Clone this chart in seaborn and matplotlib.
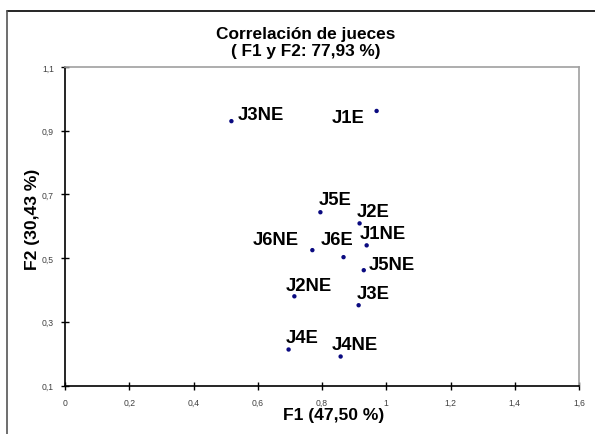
import matplotlib
matplotlib.use("Agg")
import matplotlib.pyplot as plt
from matplotlib.lines import Line2D
import seaborn as sns
import pandas as pd

judges = ["J3NE", "J1E", "J5E", "J2E", "J1NE", "J6NE", "J6E", "J5NE", "J2NE", "J3E", "J4E", "J4NE"]
f1 = [0.518, 0.970, 0.795, 0.917, 0.939, 0.770, 0.867, 0.930, 0.714, 0.914, 0.696, 0.858]
f2 = [0.930, 0.962, 0.644, 0.609, 0.540, 0.525, 0.503, 0.462, 0.380, 0.352, 0.213, 0.191]
x_ticks = [0, 0.2, 0.4, 0.6, 0.8, 1.0, 1.2, 1.4, 1.6]
x_tick_labels = ["0", "0,2", "0,4", "0,6", "0,8", "1", "1,2", "1,4", "1,6"]
y_ticks = [0.1, 0.3, 0.5, 0.7, 0.9, 1.1]
y_tick_labels = ["0,1", "0,3", "0,5", "0,7", "0,9", "1,1"]
title_lines = ["Correlación de jueces", "( F1 y F2: 77,93 %)"]
x_label = "F1 (47,50 %)"
y_label = "F2 (30,43 %)"

# label offsets in pixels (dx, dy, ha)
label_offsets = {
    "J3NE": (6, 7, "left"),
    "J1E": (-12, -7, "right"),
    "J5E": (-2, 13, "left"),
    "J2E": (-3, 12, "left"),
    "J1NE": (-7, 12, "left"),
    "J6NE": (-14, 11, "right"),
    "J6E": (-23, 18, "left"),
    "J5NE": (5, 6, "left"),
    "J2NE": (-9, 11, "left"),
    "J3E": (-2, 12, "left"),
    "J4E": (-3, 12, "left"),
    "J4NE": (-9, 12, "left"),
}

sns.set_style("white")
plt.rcParams["font.family"] = ["Liberation Sans", "DejaVu Sans"]

df = pd.DataFrame({"judge": judges, "F1": f1, "F2": f2})

W, H = 595, 435
fig = plt.figure(figsize=(W / 100, H / 100), dpi=100)
ax = fig.add_axes([65 / W, 1 - 386.5 / H, (579 - 65) / W, (386.5 - 68) / H])

sns.scatterplot(data=df, x="F1", y="F2", ax=ax, color="#0a0a80", s=10,
                edgecolor="none", legend=False)

for j, x, y in zip(judges, f1, f2):
    dx, dy, ha = label_offsets[j]
    ax.annotate(j, (x, y), xytext=(dx, dy), textcoords="offset pixels",
                ha=ha, va="center", fontsize=13.3, fontweight="bold", color="black")

ax.set_xlim(0, 1.6)
ax.set_ylim(0.1, 1.1)
ax.set_xticks(x_ticks)
ax.set_xticklabels(x_tick_labels)
ax.set_yticks(y_ticks)
ax.set_yticklabels(y_tick_labels)
ax.tick_params(axis="both", labelsize=6.2, labelcolor="#404040", colors="black",
               direction="inout", length=6, width=1, left=True, bottom=True)
ax.tick_params(axis="x", pad=6)
ax.tick_params(axis="y", pad=5)
ax.set_xlabel("")
ax.set_ylabel("")

for side in ["left", "bottom"]:
    ax.spines[side].set_color("black")
    ax.spines[side].set_linewidth(1.2)
for side in ["top", "right"]:
    ax.spines[side].set_color("#a0a0a0")
    ax.spines[side].set_linewidth(1.2)
    ax.spines[side].set_visible(True)

fig.text(305.5 / W, 1 - 34 / H, title_lines[0], ha="center", va="center",
         fontsize=12.4, fontweight="bold", color="black")
fig.text(306 / W, 1 - 52 / H, title_lines[1], ha="center", va="center",
         fontsize=12.4, fontweight="bold", color="black")
fig.text(334 / W, 1 - 416 / H, x_label, ha="center", va="center",
         fontsize=12.6, fontweight="bold", color="black")
fig.text(32 / W, 1 - 219 / H, y_label, ha="center", va="center",
         fontsize=12.6, fontweight="bold", rotation=90, color="black")

# outer frame lines (top and left)
fig.add_artist(Line2D([7 / W, 1.0], [1 - 12 / H, 1 - 12 / H], color="black", lw=1.2,
                      transform=fig.transFigure))
fig.add_artist(Line2D([7 / W, 7 / W], [0, 1 - 12 / H], color="#555555", lw=1.2,
                      transform=fig.transFigure))

fig.savefig("out.png", dpi=100)
